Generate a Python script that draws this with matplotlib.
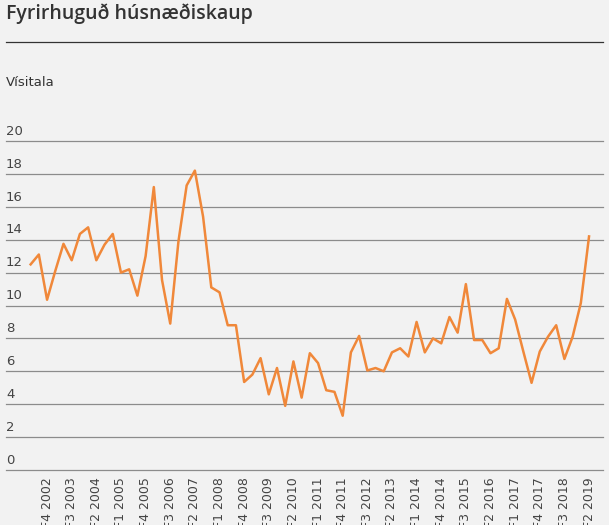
import matplotlib
matplotlib.use('Agg')
import matplotlib.pyplot as plt
import matplotlib.transforms as mtransforms

# quarterly values, F2 2002 .. F2 2019
values = [12.5, 13.1, 10.35, 12.1, 13.75, 12.75, 14.35, 14.75, 12.75, 13.7,
          14.35, 12.0, 12.2, 10.6, 13.0, 17.2, 11.55, 8.9, 13.9, 17.3,
          18.2, 15.4, 11.1, 10.8, 8.8, 8.8, 5.35, 5.8, 6.8, 4.6,
          6.2, 3.9, 6.6, 4.4, 7.1, 6.5, 4.85, 4.75, 3.3, 7.15,
          8.15, 6.05, 6.2, 6.0, 7.15, 7.4, 6.9, 9.0, 7.15, 8.0,
          7.7, 9.3, 8.35, 11.3, 7.9, 7.9, 7.1, 7.4, 10.4, 9.15,
          7.2, 5.3, 7.2, 8.1, 8.8, 6.75, 8.1, 10.15, 14.2]
start_year, start_q = 2002, 2
quarters = []
y, q = start_year, start_q
for v in values:
    quarters.append(f'F{q} {y}')
    q += 1
    if q > 4:
        q = 1
        y += 1
tick_idx = list(range(2, len(values), 3))
yticks = [0, 2, 4, 6, 8, 10, 12, 14, 16, 18, 20]

bg = '#f2f2f2'
fig = plt.figure(figsize=(6.09, 5.25), dpi=100, facecolor=bg)
W, H = 609, 525
ax = fig.add_axes([6 / W, (H - 470) / H, 597 / W, 329 / H], facecolor=bg)

x = list(range(len(values)))
ax.plot(x, values, color='#f0883a', linewidth=1.8, zorder=3)
ax.set_xlim(-3.0, 69.7)
ax.set_ylim(0, 20)

trans = mtransforms.blended_transform_factory(ax.transAxes, ax.transData)
for t in yticks:
    ax.axhline(t, color='#8c8c8c', linewidth=0.9, zorder=1, clip_on=False)
    ax.text(0, t + 0.2, str(t), transform=trans,
            fontsize=9.5, color='#444444', va='bottom', ha='left')

ax.set_yticks([])
ax.set_xticks(tick_idx)
ax.set_xticklabels([quarters[i] for i in tick_idx], rotation=90, fontsize=9, color='#444444')
ax.tick_params(axis='x', length=0, pad=5)
for s in ax.spines.values():
    s.set_visible(False)

fig.text(6 / W, 1 - 14 / H, 'Fyrirhuguð húsnæðiskaup', fontsize=14, color='#333333',
         va='center', ha='left', fontfamily='Open Sans', fontweight='semibold')
fig.add_artist(plt.Line2D([6 / W, 603 / W], [1 - 42 / H, 1 - 42 / H], color='#333333', linewidth=0.9))
fig.text(6 / W, 1 - 83 / H, 'Vísitala', fontsize=9.5, color='#333333', va='center', ha='left')

fig.savefig('out.png', dpi=100, facecolor=bg)
